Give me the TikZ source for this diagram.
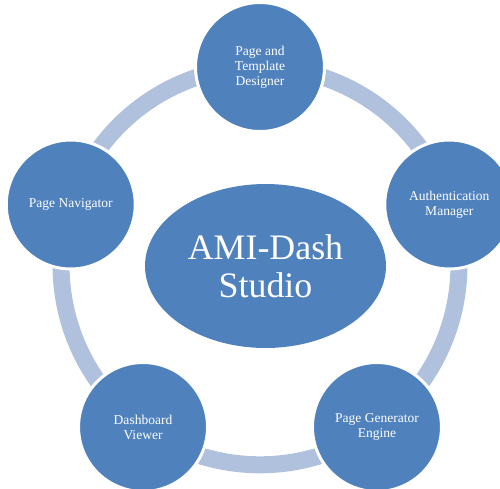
\documentclass[tikz,border=0pt]{standalone}
\usepackage{fontspec}
\setmainfont{Liberation Serif}
\usetikzlibrary{shapes.geometric,backgrounds}
\definecolor{hubblue}{RGB}{79,129,189}
\definecolor{ringblue}{RGB}{176,193,222}

\begin{document}
\begin{tikzpicture}[x=0.02cm,y=0.02cm]
\tikzstyle{every node}=[font=\fontsize{7.7}{8.5}\selectfont, text=white, align=center]
\tikzstyle{module}=[circle, fill=hubblue, draw=white, line width=0.06cm, minimum size=2.58cm, inner sep=0pt]
\tikzstyle{link}=[ringblue, line width=0.34cm, bend left=36, looseness=0.94]

\useasboundingbox (-260,-222) rectangle (240,266);

\node[ellipse, fill=hubblue, minimum width=4.82cm, minimum height=3.28cm, inner sep=0pt,
      font=\fontsize{20.4}{21.6}\selectfont] (studio) at (5.5,0) {AMI-Dash\\Studio};

\node[module] (designer) at (90:199) {Page and\\Template\\Designer};
\node[module] (auth) at (18:199) {Authentication\\Manager};
\node[module] (engine) at (-54:199) {Page Generator\\Engine};
\node[module] (viewer) at (-126:199) {Dashboard\\Viewer};
\node[module] (navigator) at (162:199) {Page Navigator};

% ring segments behind the modules
\begin{scope}[on background layer]
\draw[link] (designer.center) to (auth.center);
\draw[link] (auth.center) to (engine.center);
\draw[link] (engine.center) to (viewer.center);
\draw[link] (viewer.center) to (navigator.center);
\draw[link] (navigator.center) to (designer.center);
\end{scope}

\end{tikzpicture}
\end{document}
